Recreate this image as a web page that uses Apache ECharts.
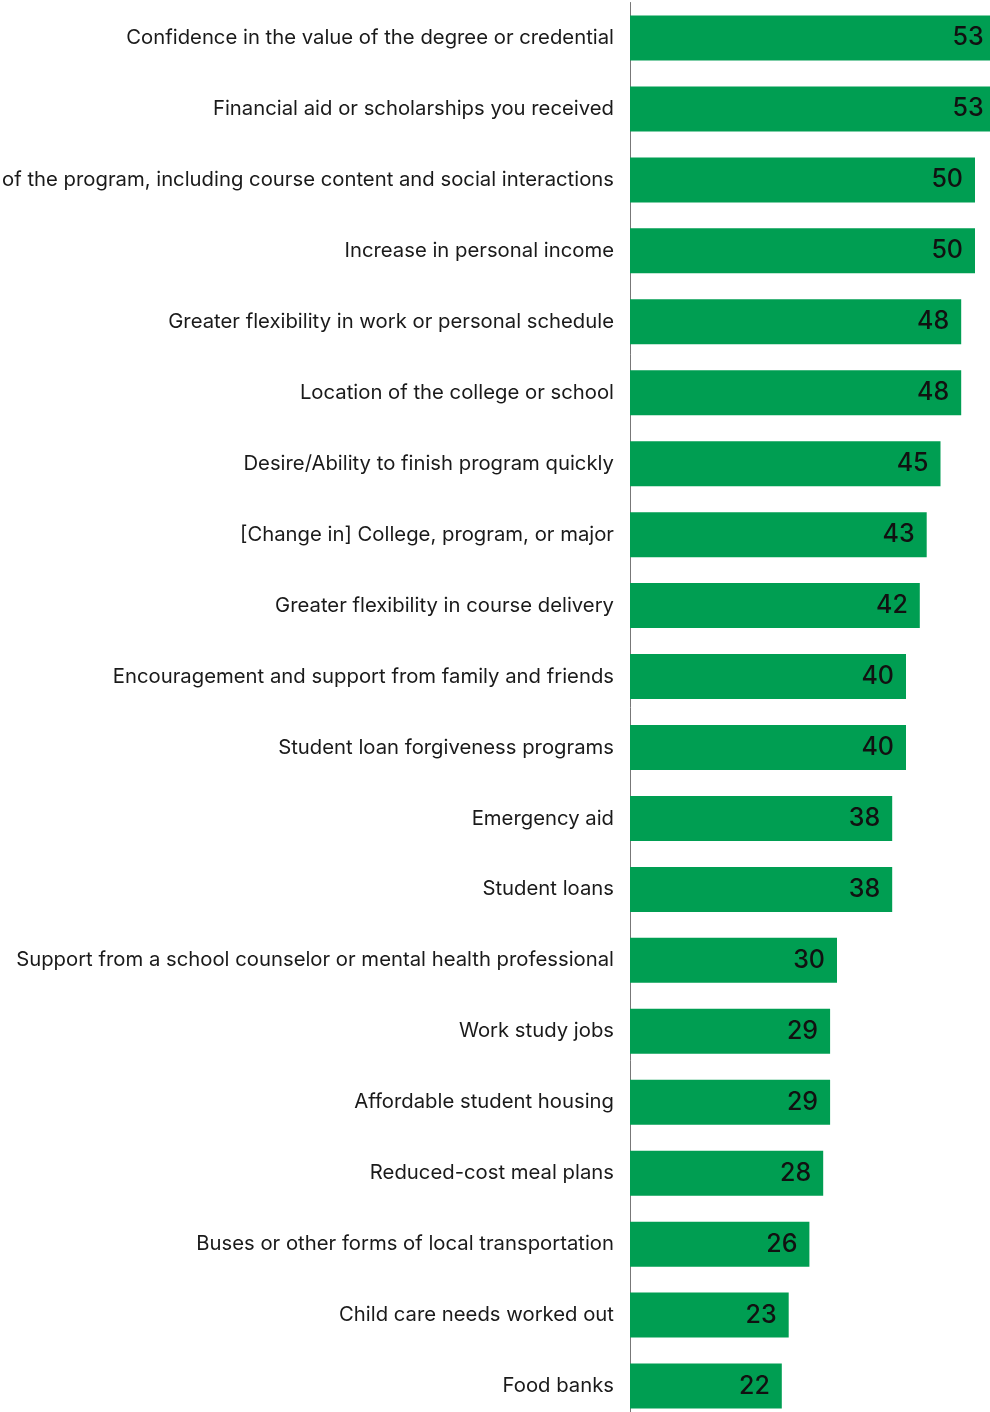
<!DOCTYPE html>
<html><head><meta charset="utf-8">
<script src="https://cdn.jsdelivr.net/npm/echarts@6/dist/echarts.min.js"></script>
<style>html,body{margin:0;padding:0;background:#fff}#c{width:990px;height:1412px}</style>
</head><body><div id="c"></div>
<script>
const categories = [
  "Confidence in the value of the degree or credential",
  "Financial aid or scholarships you received",
  "Quality of the program, including course content and social interactions",
  "Increase in personal income",
  "Greater flexibility in work or personal schedule",
  "Location of the college or school",
  "Desire/Ability to finish program quickly",
  "[Change in] College, program, or major",
  "Greater flexibility in course delivery",
  "Encouragement and support from family and friends",
  "Student loan forgiveness programs",
  "Emergency aid",
  "Student loans",
  "Support from a school counselor or mental health professional",
  "Work study jobs",
  "Affordable student housing",
  "Reduced-cost meal plans",
  "Buses or other forms of local transportation",
  "Child care needs worked out",
  "Food banks"
];
const values = [53,53,50,50,48,48,45,43,42,40,40,38,38,30,29,29,28,26,23,22];

const chart = echarts.init(document.getElementById('c'));
chart.setOption({
  animation:false,
  grid:{left:630, top:2.5, width:414, height:1419, containLabel:false, outerBoundsMode:'none'},
  xAxis:{type:'value', min:0, max:60, show:false},
  yAxis:{type:'category', data:categories, inverse:true,
    axisLine:{show:true, lineStyle:{color:'#777', width:1}},
    axisTick:{show:false},
    axisLabel:{margin:16, fontSize:20.3, color:'#1a1a1a', fontFamily:'Inter'}
  },
  series:[{type:'bar', data:values, barWidth:45,
    itemStyle:{color:'#009e52'},
    label:{show:true, position:'insideRight', distance:12, fontSize:25, fontWeight:500, color:'#111', fontFamily:'Inter'}
  }]
});
</script></body></html>
